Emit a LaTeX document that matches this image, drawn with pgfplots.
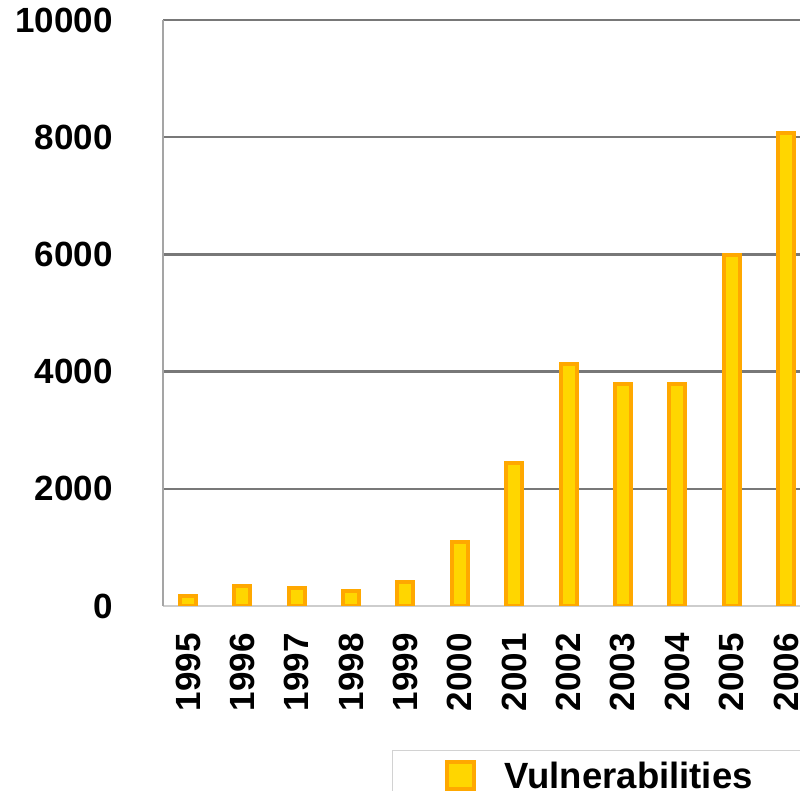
\documentclass[border=0pt]{standalone}
\usepackage{fontspec}
\setmainfont{Liberation Sans}
\usepackage{pgfplots}
\pgfplotsset{compat=1.18}
\definecolor{barfill}{RGB}{255,214,0}
\definecolor{barline}{RGB}{255,168,0}
\definecolor{gridgray}{RGB}{120,120,120}
\definecolor{yaxgray}{RGB}{165,165,165}
\definecolor{xaxgray}{RGB}{205,205,205}
\begin{document}
\begin{tikzpicture}[x=1bp,y=1bp]
\useasboundingbox (0,0) rectangle (800,791);
\begin{axis}[
  at={(163bp,185bp)}, anchor=south west,
  scale only axis, width=637bp, height=586bp,
  xmin=-0.46, xmax=11.258, ymin=0, ymax=10000,
  xtick={0,...,11},
  xticklabels={1995,1996,1997,1998,1999,2000,2001,2002,2003,2004,2005,2006},
  ytick={2000,4000,6000,8000,10000},
  extra y ticks={0}, extra y tick style={grid=none},
  ymajorgrids, grid style={draw=gridgray, line width=2.5bp},
  major tick length=0pt,
  /pgf/number format/assume math mode=true,
  scaled y ticks=false,
  yticklabel style={/pgf/number format/1000 sep={}, inner sep=0bp, xshift=-50bp},
  xticklabel style={rotate=90, anchor=east, inner sep=0bp, xshift=-27bp},
  tick label style={font=\fontsize{35bp}{42bp}\selectfont\bfseries},
  separate axis lines,
  axis x line*=bottom, axis y line*=left,
  x axis line style={-, draw=xaxgray, line width=2.5bp},
  y axis line style={-, draw=yaxgray, line width=2bp},
  legend style={at={(0.3595,-0.2457)}, anchor=north west,
    draw=gray!35, line width=1bp,
    inner xsep=52bp, inner ysep=10bp,
    nodes={inner sep=0bp},
    column sep=29bp,
    font=\fontsize{36.5bp}{44bp}\selectfont\bfseries},
  legend cell align=left,
]
\addplot[ybar, bar width=16bp, fill=barfill, draw=barline, line width=4bp,
  legend image code/.code={\draw[line width=4bp, draw=barline, fill=barfill] (0bp,-13.5bp) rectangle (27bp,13.5bp);}]
  coordinates {(0,171) (1,345) (2,311) (3,262) (4,417) (5,1090) (6,2437) (7,4129) (8,3784) (9,3780) (10,5990) (11,8064)};
\addlegendentry{Vulnerabilities}
\end{axis}
\end{tikzpicture}
\end{document}
